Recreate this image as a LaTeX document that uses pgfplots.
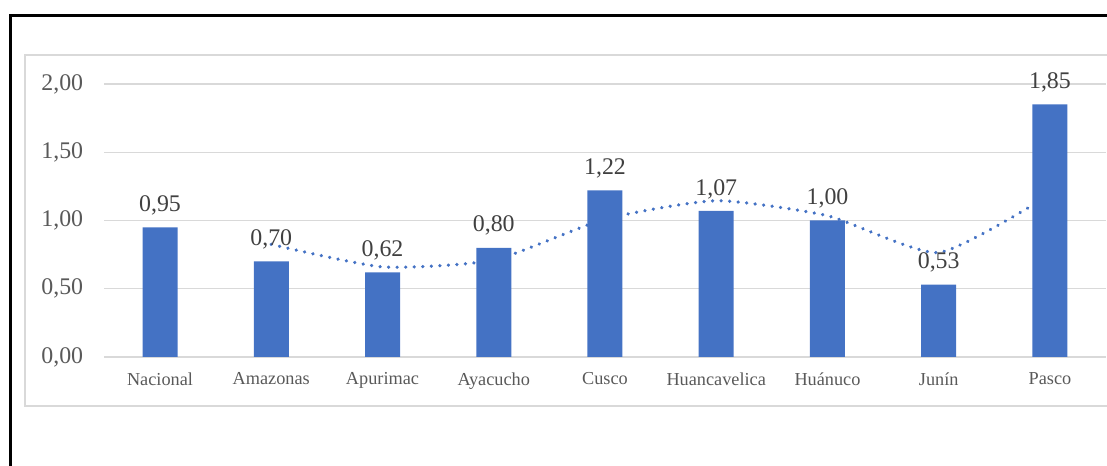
\documentclass[border=0pt]{standalone}
\usepackage{fontspec}
\setmainfont{Liberation Serif}
\usepackage{pgfplots}
\pgfplotsset{compat=1.18}
\definecolor{barblue}{HTML}{4472C4}
\definecolor{gridgray}{HTML}{D9D9D9}
\definecolor{ticktext}{HTML}{595959}
\definecolor{labeltext}{HTML}{404040}
\begin{document}
\begin{tikzpicture}
% outer frames
\draw[black, line width=2pt] (7.9pt,-20pt) -- (7.9pt,337.9pt) -- (850pt,337.9pt);
\draw[gridgray, line width=1.5pt] (850pt,45pt) -- (18.5pt,45pt) -- (18.5pt,308.6pt) -- (850pt,308.6pt);
\begin{axis}[
  at={(78.3pt,81.75pt)}, anchor=south west,
  scale only axis, width=750.9pt, height=204.75pt,
  xmin=-0.5, xmax=8.5, ymin=0, ymax=2,
  axis line style={draw=none},
  major tick length=0pt,
  ymajorgrids, grid style={gridgray, line width=1.1pt},
  ytick={0,0.5,1,1.5,2},
  xtick={0,...,8},
  xticklabels={Nacional,Amazonas,Apurimac,Ayacucho,Cusco,Huancavelica,Huánuco,Junín,Pasco},
  /pgf/number format/assume math mode=true,
  yticklabel style={font=\fontsize{17.9}{20}\selectfont, text=ticktext, inner sep=0pt, anchor=east, xshift=-15.75pt,
    /pgf/number format/.cd, fixed, fixed zerofill, precision=2, use comma},
  xticklabel style={font=\fontsize{13.7}{16}\selectfont, text=ticktext, inner sep=0pt, anchor=north, yshift=-11.5pt},
  clip=false,
]
\addplot[ybar, bar width=26.25pt, fill=barblue, draw=none,
  nodes near coords,
  nodes near coords style={font=\fontsize{17.9}{20}\selectfont, text=labeltext, inner sep=0pt, anchor=south, yshift=9pt,
    /pgf/number format/.cd, fixed, fixed zerofill, precision=2, use comma, assume math mode=true},
] coordinates {(0,0.95) (1,0.70) (2,0.62) (3,0.80) (4,1.22) (5,1.07) (6,1.00) (7,0.53) (8,1.85)};
\addplot[barblue, line width=2.7pt, line cap=round, dash pattern=on 0.01pt off 6.4pt, smooth, tension=0.35]
 coordinates {(1,0.825) (2,0.66) (3,0.71) (4,1.01) (5,1.145) (6,1.035) (7,0.765) (8,1.19)};
\end{axis}
\pgfresetboundingbox
\path[use as bounding box] (0,0) rectangle (830.25pt,349.5pt);
\end{tikzpicture}
\end{document}
